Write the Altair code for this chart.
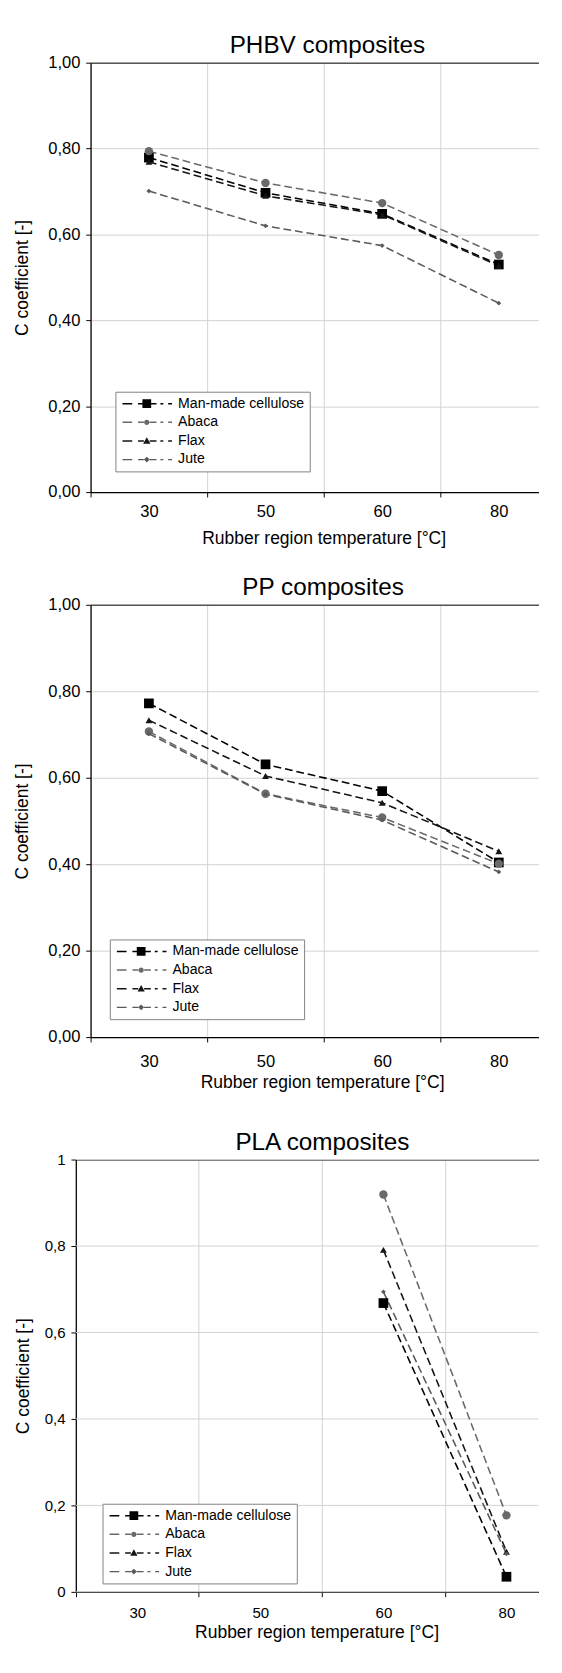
import altair as alt
import pandas as pd

# ---------------- data ----------------
temps = ["30", "50", "60", "80"]
series = ["Man-made cellulose", "Abaca", "Flax", "Jute"]

phbv_mmc = [0.779, 0.697, 0.648, 0.530]
phbv_abaca = [0.794, 0.720, 0.673, 0.552]
phbv_flax = [0.769, 0.690, 0.646, 0.527]
phbv_jute = [0.701, 0.620, 0.574, 0.440]

pp_mmc = [0.772, 0.631, 0.569, 0.404]
pp_abaca = [0.707, 0.563, 0.508, 0.401]
pp_flax = [0.733, 0.604, 0.542, 0.430]
pp_jute = [0.702, 0.562, 0.502, 0.382]

pla_mmc = [None, None, 0.668, 0.035]
pla_abaca = [None, None, 0.919, 0.177]
pla_flax = [None, None, 0.791, 0.093]
pla_jute = [None, None, 0.694, 0.088]

series_colors = ["#000000", "#6a6a6a", "#151515", "#5a5a5a"]
marker_shapes = ["square", "circle", "triangle-up", "diamond"]
marker_sizes = [100, 24, 40, 26]

FONT = "Liberation Sans"


def to_df(cols):
    rows = []
    for s, vals in zip(series, cols):
        for i, (t, v) in enumerate(zip(temps, vals)):
            if v is not None:
                rows.append({"series": s, "idx": i, "temp": t, "value": v})
    return pd.DataFrame(rows)


# ---------- legend symbols: dashed line + marker (units: 5 px) ----------
def rect(x0, x1, hh):
    return f"M{x0},{-hh}H{x1}V{hh}H{x0}Z"


HH = 0.15
dashes = "".join(rect(a, b, HH) for a, b in [(-1, 1), (2.2, 3.4), (4.6, 6.0), (6.8, 7.4), (8.4, 9.2)])
C = 4.0
sq = rect(C - 0.9, C + 0.9, 0.9)
r = 0.55
circ = f"M{C - r},0A{r},{r},0,1,1,{C + r},0A{r},{r},0,1,1,{C - r},0Z"
tri = f"M{C - 0.75},0.55L{C + 0.75},0.55L{C},-0.75Z"
dia = f"M{C},-0.6L{C + 0.6},0L{C},0.6L{C - 0.6},0Z"
legend_paths = [dashes + sq, dashes + circ, dashes + tri, dashes + dia]

xvals = [-0.5, 0, 0.5, 1, 1.5, 2, 2.5, 3]
yvals = [0, 0.2, 0.4, 0.6, 0.8, 1.0]
xlab_expr = " : ".join(f"datum.value == {i} ? '{t}'" for i, t in enumerate(temps)) + " : ''"
edge_test = "datum.value % 1 != 0"

WIDTH = 461
GRID = "#d2d2d2"


def panel(df, title, title_x, title_pad, height, x_min_px, x_max,
          ylab_size, ylab_fmt, y_extent, xlab_size, xlab_pad, xtitle_pad, xtitle_x,
          legend_x, legend_y):
    shifted = x_min_px != 0
    xscale = alt.Scale(domain=[-0.5, x_max], range=[x_min_px, WIDTH], nice=False, zero=False)
    yscale = alt.Scale(domain=[0, 1], nice=False, zero=False)
    yaxis = alt.Axis(
        values=yvals,
        labelExpr=f"replace(format(datum.value, '{ylab_fmt}'), '.', ',')",
        labelFontSize=ylab_size, labelColor="black", labelFont=FONT, labelPadding=6,
        labelFlush=False, labelOverlap=False,
        tickSize=5, tickColor="black", tickWidth=1,
        domainColor="black", domainWidth=1.3,
        grid=not shifted, gridColor=GRID, gridWidth=1,
        title="C coefficient [-]", titleFontSize=18, titleFont=FONT,
        titleFontWeight="normal", titleColor="black", titlePadding=13,
        minExtent=y_extent, maxExtent=y_extent, offset=-x_min_px,
    )
    xaxis = alt.Axis(
        values=xvals, labelExpr=xlab_expr,
        labelFontSize=xlab_size, labelColor="black", labelFont=FONT,
        labelPadding=xlab_pad, labelFlush=False, labelOverlap=False,
        tickSize=5, tickColor="black", tickWidth=1,
        tickOpacity={"condition": {"test": edge_test, "value": 1}, "value": 0},
        grid=True, gridColor=GRID, gridWidth=1,
        gridOpacity={"condition": {"test": edge_test, "value": 1}, "value": 0},
        domainColor="black", domainWidth=1.3,
        title="Rubber region temperature [°C]", titleFontSize=18, titleFont=FONT,
        titleFontWeight="normal", titleColor="black", titlePadding=xtitle_pad,
        titleX=xtitle_x, titleAlign="center", titleAnchor="start",
    )
    # top axis: draws the top frame line and carries the panel title
    top_axis = alt.Axis(
        orient="top", labels=False, ticks=False, grid=False,
        domainColor="#555555", domainWidth=1.5,
        minExtent=0, maxExtent=0,
        title=title, titleFontSize=25, titleFont=FONT, titleFontWeight="normal",
        titleColor="black", titlePadding=title_pad, titleBaseline="alphabetic",
        titleX=title_x, titleAlign="center", titleAnchor="start",
    )
    cscale = alt.Scale(domain=series, range=series_colors)

    base = alt.Chart(df)
    lines = base.mark_line(strokeDash=[8, 4], strokeWidth=1.6).encode(
        x=alt.X("idx:Q", scale=xscale, axis=xaxis),
        y=alt.Y("value:Q", scale=yscale, axis=yaxis),
        color=alt.Color("series:N", scale=cscale, legend=None),
    )
    points = base.mark_point(filled=True, opacity=1).encode(
        x=alt.X("idx:Q", scale=xscale, axis=xaxis),
        y=alt.Y("value:Q", scale=yscale, axis=yaxis),
        color=alt.Color("series:N", scale=cscale, legend=None),
        shape=alt.Shape("series:N", scale=alt.Scale(domain=series, range=marker_shapes), legend=None),
        size=alt.Size("series:N", scale=alt.Scale(domain=series, range=marker_sizes), legend=None),
    )
    inner = [lines, points]
    if shifted:
        # horizontal grid lines drawn across the x domain (axis grid would overrun the plot)
        grid_rules = alt.Chart(pd.DataFrame({"gy": yvals})).mark_rule(
            color=GRID, strokeWidth=1
        ).encode(
            x=alt.X(datum=-0.5, scale=xscale, axis=xaxis),
            x2=alt.X2(datum=x_max),
            y=alt.Y("gy:Q", scale=yscale, axis=yaxis),
        )
        inner = [grid_rules, lines, points]
    leg = alt.Legend(
        title=None, orient="none", legendX=legend_x, legendY=legend_y,
        symbolSize=100, symbolStrokeWidth=0, labelOffset=45,
        labelFontSize=14.5, labelFont=FONT, labelColor="black",
        rowPadding=4.2, padding=5, strokeColor="#808080", fillColor="white",
        labelLimit=300,
    )
    # legend-only layer: no marks drawn (filtered out); legend from the fixed scale domains
    legend_layer = base.transform_filter("datum.idx < 0").mark_point(filled=True, opacity=1).encode(
        x=alt.X("idx:Q", scale=xscale, axis=top_axis),
        y=alt.Y("value:Q", scale=yscale, axis=yaxis),
        color=alt.Color("series:N", scale=cscale, legend=leg),
        shape=alt.Shape("series:N", scale=alt.Scale(domain=series, range=legend_paths), legend=leg),
    )
    return (
        alt.layer(alt.layer(*inner), legend_layer)
        .resolve_scale(color="independent", shape="independent")
        .resolve_axis(x="independent")
        .properties(width=WIDTH, height=height)
    )


p1 = panel(to_df([phbv_mmc, phbv_abaca, phbv_flax, phbv_jute]), "PHBV composites",
           243.3, 10.9, 442, 0, 3.34, 17, ".2f", 47.7, 17, 7, 11, 239.9, 25.6, 338.7)
p2 = panel(to_df([pp_mmc, pp_abaca, pp_flax, pp_jute]), "PP composites",
           238.8, 10.4, 445, 0, 3.34, 17, ".2f", 47.7, 17, 12.5, 4.5, 238.3, 19.8, 344.5)
p3 = panel(to_df([pla_mmc, pla_abaca, pla_flax, pla_jute]), "PLA composites",
           238.1, 10.2, 445, -15.2, 3.26, 15.5, ".1~f", 31.8, 15.5, 9.7, 3, 232.6, 12.3, 354.3)

chart = (
    alt.concat(
        alt.concat(p1, p2, columns=1, spacing=28),
        p3, columns=1, spacing=39,
    )
    .properties(padding={"left": 6, "top": 1, "right": 0, "bottom": 0})
    .configure(font=FONT)
    .configure_view(stroke=None)
)

chart.save("out.html", embed_options={"renderer": "svg", "actions": False})
